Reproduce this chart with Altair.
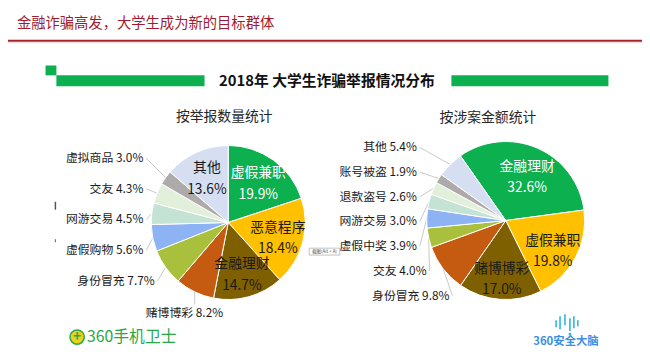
import altair as alt
import pandas as pd

FONT = "Noto Sans CJK SC"
OFF = 8  # page margin

# ---------------- data ----------------
left_cats = ["虚假兼职", "恶意程序", "金融理财", "赌博博彩", "身份冒充",
             "虚假购物", "网游交易", "交友", "虚拟商品", "其他"]
left_vals = [19.9, 18.4, 14.7, 8.2, 7.7, 5.6, 4.5, 4.3, 3.0, 13.6]

right_cats = ["金融理财", "虚假兼职", "赌博博彩", "身份冒充", "交友",
              "虚假中奖", "网游交易", "退款盗号", "账号被盗", "其他"]
right_vals = [32.6, 19.8, 17.0, 9.8, 4.0, 3.9, 3.0, 2.6, 1.9, 5.4]

palette = ["#0DB04F", "#FFC000", "#7F6000", "#C55A11", "#A8C03C",
           "#8DB3F4", "#C5E3D4", "#E2EFDA", "#AEAAAA", "#D6DFF2"]

TXT = "#1A1A1A"
GREEN = "#0DB04F"


def frame(cats, vals):
    return pd.DataFrame({"idx": list(range(len(cats))), "cat": cats, "val": vals,
                         "pct": [f"{v:.1f}%" for v in vals]})


def P(v):
    return v - OFF


def pie(df, cx, cy, R, a0, rin, ddy, y0, sp, cap, RR=95, rbot=102):
    cx, cy = P(cx), P(cy)
    base = (alt.Chart(df)
            .transform_window(cum="sum(val)", sort=[alt.SortField("idx")], frame=[None, 0])
            .transform_joinaggregate(total="sum(val)")
            .transform_calculate(t0=f"{a0} + 2*PI*(datum.cum - datum.val)/datum.total")
            .transform_calculate(t1=f"{a0} + 2*PI*datum.cum/datum.total")
            .transform_calculate(mid="(datum.t0 + datum.t1)/2")
            .transform_calculate(ex=f"{cx} + {R}*sin(datum.mid)")
            .transform_calculate(ey=f"{cy} - {R}*cos(datum.mid)"))

    arcs = base.mark_arc(radius=R, stroke="white", strokeWidth=1).encode(
        theta=alt.Theta("t0:Q", scale=None),
        theta2=alt.Theta2("t1:Q"),
        color=alt.Color("idx:O", scale=alt.Scale(domain=list(range(10)), range=palette), legend=None),
        x=alt.value(cx), y=alt.value(cy))

    inside = (base.transform_filter("datum.val >= 10")
              .transform_calculate(lx=f"{cx} + {rin}*sin(datum.mid)")
              .transform_calculate(ly=f"{cy} - {rin}*cos(datum.mid)")
              .transform_calculate(lab="datum.cat + '\\n' + datum.pct")
              .mark_text(font=FONT, fontSize=14, lineBreak="\n", lineHeight=22,
                         align="center", baseline="middle", dy=ddy)
              .encode(x=alt.X("lx:Q", scale=None, axis=None),
                      y=alt.Y("ly:Q", scale=None, axis=None),
                      text="lab:N",
                      color=alt.condition("datum.idx == 0", alt.value("white"), alt.value(TXT))))

    side = (base.transform_filter("datum.val < 10 && datum.mid > 3.9")
            .transform_window(k="row_number()", sort=[alt.SortField("mid", order="descending")])
            .transform_calculate(dy=f"{y0} + {sp}*(datum.k - 1)")
            .transform_calculate(ly=f"{cy} + datum.dy")
            .transform_calculate(lx=f"{cx} - min({cap}, sqrt(max(0, {RR * RR} - pow(max(datum.dy, 0), 2))))")
            .transform_calculate(lx2="datum.lx + 3")
            .transform_calculate(lab="datum.cat + ' ' + datum.pct"))
    side_lines = side.mark_rule(color="#C8C8C8", strokeWidth=1).encode(
        x=alt.X("lx2:Q", scale=None, axis=None), y=alt.Y("ly:Q", scale=None, axis=None),
        x2="ex:Q", y2="ey:Q")
    side_text = side.mark_text(font=FONT, fontSize=12, align="right", baseline="middle", color=TXT).encode(
        x=alt.X("lx:Q", scale=None, axis=None), y=alt.Y("ly:Q", scale=None, axis=None), text="lab:N")

    bot = (base.transform_filter("datum.val < 10 && datum.mid <= 3.9")
           .transform_calculate(lx=f"{cx} + {rbot}*sin(datum.mid)")
           .transform_calculate(ly=f"{cy} - {rbot}*cos(datum.mid)")
           .transform_calculate(ly2="datum.ly - 9")
           .transform_calculate(lab="datum.cat + ' ' + datum.pct"))
    bot_lines = bot.mark_rule(color="#C8C8C8", strokeWidth=1).encode(
        x=alt.X("ex:Q", scale=None, axis=None), y=alt.Y("ey:Q", scale=None, axis=None),
        x2="ex:Q", y2="ly2:Q")
    bot_text = bot.mark_text(font=FONT, fontSize=12, align="center", baseline="middle", color=TXT).encode(
        x=alt.X("lx:Q", scale=None, axis=None), y=alt.Y("ly:Q", scale=None, axis=None), text="lab:N")

    return [side_lines, bot_lines, arcs, inside, side_text, bot_text]


one = pd.DataFrame({"a": [0]})


def txt(s, x, y, size, color, weight="normal", align="center", font=FONT):
    return alt.Chart(one).mark_text(text=s, fontSize=size, color=color, fontWeight=weight,
                                    align=align, baseline="middle", font=font).encode(
        x=alt.value(P(x)), y=alt.value(P(y)))


def rect(x1, x2, y1, y2, color, stroke=None):
    kw = {"color": color}
    if stroke:
        kw = {"fill": color, "stroke": stroke, "strokeWidth": 0.6}
    return alt.Chart(one).mark_rect(**kw).encode(
        x=alt.value(P(x1)), x2=alt.value(P(x2)), y=alt.value(P(y1)), y2=alt.value(P(y2)))


def rule(x1, x2, y1, y2, color, w=1.0):
    return alt.Chart(one).mark_rule(color=color, strokeWidth=w).encode(
        x=alt.value(P(x1)), x2=alt.value(P(x2)), y=alt.value(P(y1)), y2=alt.value(P(y2)))


layers = []
# header
layers.append(txt("金融诈骗高发，大学生成为新的目标群体", 17, 22, 14.5, "#9E1C30", align="left"))
layers.append(rule(0, 660, 39, 39, "#A3262E", 2))
layers.append(rule(0, 660, 41, 41, "#EAD6D6", 1))

# section title with green bars
layers.append(rect(46, 57, 64, 74, GREEN))
layers.append(rect(57, 207, 74, 85, GREEN))
layers.append(rect(457, 616, 74, 85, GREEN))
layers.append(txt("2018年 大学生诈骗举报情况分布", 331, 80, 15, "#111111", weight="bold"))

# subtitles
layers.append(txt("按举报数量统计", 227, 116, 14, "#262626"))
layers.append(txt("按涉案金额统计", 494, 117, 14, "#262626"))

# pies
layers += pie(frame(left_cats, left_vals), 231, 223, 78, 0.0, 52, -8, -65, 31, 86)
layers += pie(frame(right_cats, right_vals), 512, 221, 80, -0.611, 54, -5, -74, 25, 90)

# small artifacts
layers.append(rect(313, 344, 249, 256, "white", stroke="#9A9A9A"))
layers.append(txt("截图(Alt + A)", 328.5, 252.5, 4.5, "#555555"))
layers.append(rule(56, 56, 202, 210, "#555555", 1.5))
layers.append(rule(56, 56, 240, 243, "#777777", 1.2))

# 360手机卫士 logo
layers.append(alt.Chart(one).mark_circle(size=210, color="#EBD21C", opacity=1,
                                         stroke="#2BA84A", strokeWidth=1.5).encode(
    x=alt.value(P(78)), y=alt.value(P(339))))
layers.append(txt("+", 78, 338.5, 14, "#2BA84A", weight="bold"))
layers.append(txt("360手机卫士", 88, 339, 16, "#27A845", align="left"))

# 360安全大脑 logo
for (bx, y1, y2) in [(563, 322, 329), (567, 318, 331), (572, 316, 327), (577, 320, 333), (581, 318, 330), (585, 322, 328)]:
    layers.append(rule(bx, bx, y1, y2, "#2CB3E6", 1.6))
layers.append(alt.Chart(one).mark_circle(size=8, color="#2CB3E6", opacity=1).encode(
    x=alt.value(P(577)), y=alt.value(P(336))))
layers.append(txt("360安全大脑", 573, 344, 11.5, "#3A8FE4", weight="bold"))

chart = alt.layer(*layers).properties(
    width=642, height=349, padding=0, autosize="none", background="white"
).configure_view(stroke=None)

chart.save("out.html", embed_options={"renderer": "svg", "actions": False})
